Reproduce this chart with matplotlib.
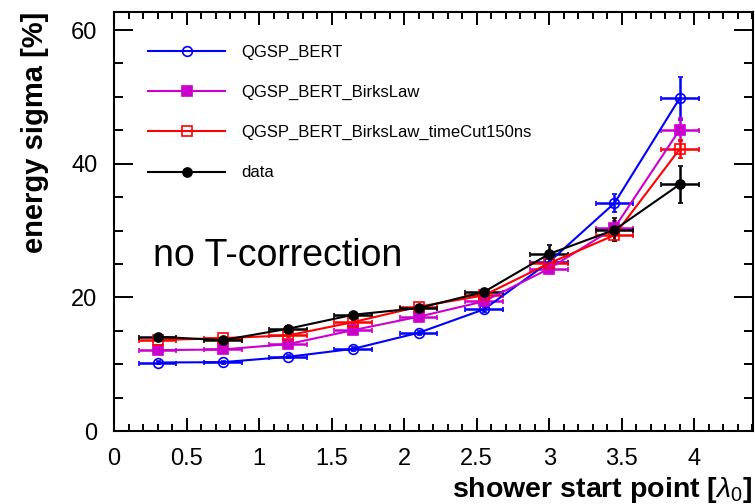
import matplotlib
matplotlib.use("Agg")
import matplotlib.pyplot as plt
from matplotlib.lines import Line2D
from matplotlib.ticker import MultipleLocator

plt.rcParams['font.family'] = ['Liberation Sans', 'DejaVu Sans']
plt.rcParams['mathtext.fontset'] = 'custom'
plt.rcParams['mathtext.rm'] = 'Liberation Sans'
plt.rcParams['mathtext.it'] = 'Liberation Sans:italic'

# shower start point bins [lambda_0]
start_point = [0.3, 0.75, 1.2, 1.65, 2.1, 2.55, 3.0, 3.45, 3.9]
start_err = [0.13] * 9

# energy sigma [%] per physics list
sigma_bert = [10.25, 10.3, 11.1, 12.3, 14.7, 18.2, 25.3, 34.1, 49.8]
err_bert = [0.2, 0.2, 0.2, 0.3, 0.3, 0.4, 0.8, 1.3, 3.2]
sigma_birks = [12.1, 12.2, 13.0, 15.1, 17.1, 19.4, 24.3, 30.4, 45.1]
err_birks = [0.2, 0.2, 0.2, 0.3, 0.3, 0.4, 0.6, 1.0, 1.7]
sigma_tcut = [13.6, 13.9, 14.3, 16.3, 18.6, 20.3, 25.1, 29.3, 42.2]
err_tcut = [0.2, 0.2, 0.2, 0.3, 0.3, 0.4, 0.6, 0.9, 1.4]
sigma_data = [14.1, 13.6, 15.3, 17.4, 18.4, 20.8, 26.5, 30.1, 36.9]
err_data = [0.3, 0.3, 0.3, 0.4, 0.4, 0.5, 1.3, 1.7, 2.8]

labels = ['QGSP_BERT', 'QGSP_BERT_BirksLaw',
          'QGSP_BERT_BirksLaw_timeCut150ns', 'data']

series = [
    (sigma_bert, err_bert, '#0000ff', 'o', 'none', 7),
    (sigma_birks, err_birks, '#cc00cc', 's', '#cc00cc', 7),
    (sigma_tcut, err_tcut, '#ff0000', 's', 'none', 7.5),
    (sigma_data, err_data, '#000000', 'o', '#000000', 6.5),
]

fig = plt.figure(figsize=(7.55, 5.04), dpi=100)
ax = fig.add_axes([114 / 755, 73 / 504, 639 / 755, 419 / 504])

handles = []
for (vals, errs, col, mk, face, ms), lab in zip(series, labels):
    ax.errorbar(start_point, vals, xerr=start_err, yerr=errs, color=col,
                marker=mk, markersize=ms, markerfacecolor=face,
                markeredgecolor=col, markeredgewidth=1.2, linewidth=1.5,
                elinewidth=1.8, capsize=1.8, capthick=1.8)
    handles.append(Line2D([], [], color=col, marker=mk, markersize=ms,
                          markerfacecolor=face, markeredgecolor=col,
                          markeredgewidth=1.2, linewidth=1.5))

ax.set_xlim(0, 4.405)
ax.set_ylim(0, 62.7)
ax.xaxis.set_major_locator(MultipleLocator(0.5))
ax.xaxis.set_minor_locator(MultipleLocator(0.1))
ax.yaxis.set_major_locator(MultipleLocator(20))
ax.yaxis.set_minor_locator(MultipleLocator(5))
ax.xaxis.set_major_formatter(plt.FuncFormatter(lambda v, p: '%g' % v))
ax.yaxis.set_major_formatter(plt.FuncFormatter(lambda v, p: '%g' % v))

ax.tick_params(axis='both', which='both', direction='in', top=True,
               right=True, width=1.4, labelsize=17)
ax.tick_params(axis='x', which='major', length=9.5, pad=12)
ax.tick_params(axis='x', which='minor', length=4.8)
ax.tick_params(axis='y', which='major', length=13.5, pad=12)
ax.tick_params(axis='y', which='minor', length=6.8)
for sp in ax.spines.values():
    sp.set_linewidth(1.5)

ax.set_xlabel(r'shower start point [$\lambda_0$]', fontsize=20.5,
              fontweight='bold', loc='right', labelpad=4)
ax.xaxis.label.set_x(0.998)
ax.set_ylabel('energy sigma [%]', fontsize=21, fontweight='bold',
              loc='top', labelpad=16)

ax.text(0.27, 24.7, 'no T-correction', fontsize=27, va='baseline')

ax.legend(handles, labels, loc='upper left', bbox_to_anchor=(0.03, 0.957),
          frameon=False, fontsize=12, handlelength=4.6, handletextpad=1.0,
          labelspacing=1.5)

fig.savefig('out.png', dpi=100)
